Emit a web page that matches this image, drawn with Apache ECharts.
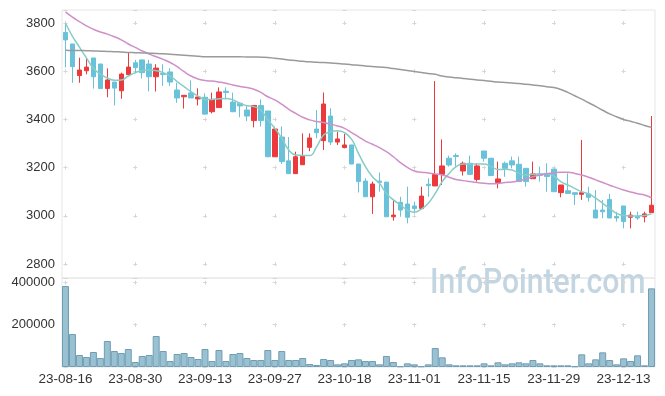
<!DOCTYPE html>
<html><head><meta charset="utf-8">
<script src="https://cdn.jsdelivr.net/npm/echarts@6/dist/echarts.min.js"></script>
<style>html,body{margin:0;padding:0;background:#fff}#c{width:665px;height:396px}</style>
</head><body><div id="c"></div>
<script>
const dates = [
'23-08-16','23-08-17','23-08-18','23-08-21','23-08-22','23-08-23','23-08-24','23-08-25','23-08-28','23-08-29',
'23-08-30','23-08-31','23-09-01','23-09-04','23-09-05','23-09-06','23-09-07','23-09-08','23-09-11','23-09-12',
'23-09-13','23-09-14','23-09-15','23-09-18','23-09-19','23-09-20','23-09-21','23-09-22','23-09-25','23-09-26',
'23-09-27','23-10-04','23-10-05','23-10-06','23-10-10','23-10-11','23-10-12','23-10-13','23-10-16','23-10-17',
'23-10-18','23-10-19','23-10-20','23-10-23','23-10-24','23-10-25','23-10-26','23-10-27','23-10-30','23-10-31',
'23-11-01','23-11-02','23-11-03','23-11-06','23-11-07','23-11-08','23-11-09','23-11-10','23-11-13','23-11-14',
'23-11-15','23-11-16','23-11-17','23-11-20','23-11-21','23-11-22','23-11-23','23-11-24','23-11-27','23-11-28',
'23-11-29','23-11-30','23-12-01','23-12-04','23-12-05','23-12-06','23-12-07','23-12-08','23-12-11','23-12-12',
'23-12-13','23-12-14','23-12-15','23-12-18','23-12-19'];
const openP = [3761,3713,3582,3602,3655,3630,3528,3555,3519,3586,3635,3647,3630,3577,3591,3597,3522,3494,3510,3485,
3492,3432,3449,3517,3472,3467,3439,3395,3458,3435,3245,3327,3228,3175,3212,3284,3360,3312,3414,3306,
3283,3294,3215,3144,3079,3144,3140,2996,3056,3049,3041,3030,3131,3124,3172,3239,3250,3186,3218,3151,
3269,3239,3138,3218,3228,3214,3197,3154,3174,3176,3194,3096,3104,3096,3089,3091,3024,3024,3068,2997,
3041,2994,2997,2996,3013];
const closeP = [3730,3619,3605,3617,3577,3528,3564,3530,3588,3617,3615,3594,3577,3613,3586,3555,3489,3500,3489,3493,
3422,3483,3514,3512,3432,3456,3414,3458,3395,3245,3360,3225,3175,3245,3250,3323,3345,3464,3306,3319,
3294,3215,3142,3079,3132,3139,2996,3003,3024,2994,3030,3082,3125,3172,3207,3211,3246,3218,3172,3207,
3239,3167,3153,3197,3211,3142,3142,3174,3168,3163,3100,3128,3093,3089,3096,3077,2991,3017,2991,2991,
2976,3003,2991,3008,3044];
const lowP = [3616,3552,3552,3587,3528,3526,3492,3458,3486,3586,3591,3570,3516,3516,3539,3539,3469,3445,3489,3458,
3420,3425,3449,3483,3430,3409,3393,3367,3370,3245,3245,3215,3175,3175,3212,3268,3322,3273,3294,3294,
3280,3215,3097,3079,3008,3100,2996,2980,2996,2969,3010,3028,3079,3124,3128,3204,3204,3167,3172,3142,
3225,3167,3114,3162,3197,3142,3121,3154,3142,3100,3100,3077,3093,3045,3066,3059,2991,2990,2991,2976,
2948,2948,2983,2973,3013];
const highP = [3792,3713,3656,3654,3655,3630,3612,3555,3594,3678,3647,3647,3647,3629,3629,3612,3552,3500,3562,3529,
3508,3511,3533,3533,3511,3467,3458,3458,3483,3435,3370,3371,3327,3266,3342,3342,3439,3512,3446,3349,
3340,3294,3215,3156,3142,3180,3140,3068,3079,3121,3059,3121,3156,3559,3317,3250,3259,3225,3250,3218,
3269,3239,3225,3225,3246,3246,3197,3225,3204,3218,3194,3128,3176,3096,3315,3121,3107,3066,3091,3017,
3041,3017,3017,3017,3414];
const volumes = [383000,156000,56700,47300,70900,42600,123000,75600,66200,85100,
23600,52000,56700,146600,75600,28400,61500,66200,47300,37800,
85100,28400,80400,28400,61500,66200,42600,33100,33100,80400,
33100,75600,33100,33100,42600,14200,9500,37800,33100,12600,
17300,33100,36200,28400,28400,12600,52000,23600,3200,17300,
12600,3200,12600,89800,45700,12600,7900,7900,7900,7900,
17300,7900,22100,12600,17300,22100,17300,33100,17300,7900,
7900,7900,7900,3200,59900,17300,36200,69300,33100,12600,
41000,28400,55200,7900,372000];
const ma5 = [3799,3745,3700,3655,3612,3588,3572,3563,3564,3580,3594,3602,3605,3602,3594,3580,3557,3536,3515,3497,3483,
3483,3486,3487,3481,3467,3457,3453,3439,3398,3363,3322,3273,3252,3250,3250,3287,3335,3349,3353,3345,3318,
3259,3204,3162,3135,3093,3066,3045,3024,3015,3028,3052,3093,3142,3176,3204,3215,3215,3215,3215,3204,3192,
3193,3190,3176,3169,3172,3174,3174,3165,3142,3128,3114,3100,3091,3073,3052,3031,3010,3001,2999,2999,3001,3008];
const ma20 = [3846,3824,3806,3788,3774,3763,3754,3743,3730,3713,3699,3684,3671,3660,3649,3636,3619,3598,3580,3568,3561,
3559,3555,3550,3543,3537,3532,3525,3512,3494,3481,3463,3442,3425,3409,3398,3391,3387,3380,3373,3363,3345,
3328,3310,3297,3283,3266,3245,3221,3201,3186,3181,3178,3174,3169,3160,3151,3146,3142,3138,3135,3133,3134,
3138,3140,3146,3153,3162,3169,3175,3179,3181,3181,3176,3169,3160,3149,3138,3127,3117,3107,3099,3092,3086,3075];
const ma60 = [3687,3686,3686,3685,3684,3683,3682,3681,3680,3678,3677,3676,3675,3674,3672,3670,3668,3666,3664,3662,3660,
3660,3660,3660,3660,3660,3659,3659,3658,3657,3654,3651,3647,3644,3641,3639,3637,3636,3634,3632,3630,3627,
3625,3622,3620,3617,3615,3611,3607,3603,3599,3595,3591,3587,3580,3576,3573,3570,3567,3564,3561,3558,3555,
3553,3551,3549,3546,3543,3540,3536,3532,3524,3512,3498,3484,3469,3454,3438,3423,3411,3400,3392,3384,3375,3367];
const priceRange = [2742, 3854];
const volumeRange = [0, 421000];
const volumeStep = 200000;
const watermark = 'InfoPointer.com';

const UP = '#ec3a3c', DOWN = '#69c2d9';
const font = 'Liberation Sans';
const candles = dates.map((d, i) => [openP[i], closeP[i], lowP[i], highP[i]]);
const plusH = {show: true, lineStyle: {color: '#d6d6d6', width: 1, type: [4, 65.76], dashOffset: 68.26}};
const plain = v => String(v);

const chart = echarts.init(document.getElementById('c'), null, {renderer: 'canvas'});
chart.setOption({
  animation: false,
  backgroundColor: '#fff',
  grid: [
    {left: 62, right: 10, top: 10, height: 268, show: true, borderColor: '#e6e6e6', borderWidth: 1, backgroundColor: 'transparent'},
    {left: 62, right: 10, top: 278, height: 89, show: true, borderColor: '#e6e6e6', borderWidth: 1, backgroundColor: 'transparent'}
  ],
  graphic: [{
    type: 'text', x: 430, y: 267, scaleX: 0.86, z: 0, silent: true,
    style: {text: watermark, font: '500 35px Roboto', fill: '#c3d5e0', textBaseline: 'alphabetic', textAlign: 'left'}
  }],
  xAxis: [
    {type: 'category', gridIndex: 0, data: dates, boundaryGap: true,
     axisLine: {show: false}, axisTick: {show: false}, axisLabel: {show: false},
     splitLine: {show: true, alignWithLabel: true, interval: 9, lineStyle: {color: '#d6d6d6', width: 1, type: [4, 44.2], dashOffset: 37.2}}},
    {type: 'category', gridIndex: 1, data: dates, boundaryGap: true,
     axisLine: {show: false}, axisTick: {show: false},
     axisLabel: {interval: 9, color: '#333', fontFamily: font, fontSize: 13.5, margin: 5},
     splitLine: {show: true, alignWithLabel: true, interval: 9, lineStyle: {color: '#d6d6d6', width: 1, type: [4, 38.3], dashOffset: 39.6}}}
  ],
  yAxis: [
    {type: 'value', gridIndex: 0, min: priceRange[0], max: priceRange[1], scale: true,
     axisLine: {show: false}, axisTick: {show: false},
     axisLabel: {color: '#333', fontFamily: font, fontSize: 13, margin: 7, showMinLabel: false, showMaxLabel: false, formatter: plain},
     splitLine: plusH},
    {type: 'value', gridIndex: 1, min: volumeRange[0], max: volumeRange[1], interval: volumeStep,
     axisLine: {show: false}, axisTick: {show: false},
     axisLabel: {color: '#333', fontFamily: font, fontSize: 13, margin: 7, showMinLabel: false, showMaxLabel: false, formatter: plain},
     splitLine: plusH}
  ],
  series: [
    {type: 'candlestick', xAxisIndex: 0, yAxisIndex: 0, data: candles, barWidth: 5,
     itemStyle: {color: UP, color0: DOWN, borderColor: UP, borderColor0: DOWN, borderWidth: 1}},
    {type: 'line', xAxisIndex: 0, yAxisIndex: 0, data: ma5, smooth: true, symbol: 'none', z: 3,
     lineStyle: {color: '#86cdc5', width: 1.5}},
    {type: 'line', xAxisIndex: 0, yAxisIndex: 0, data: ma20, smooth: true, symbol: 'none', z: 3,
     lineStyle: {color: '#cf8fc9', width: 1.5}},
    {type: 'line', xAxisIndex: 0, yAxisIndex: 0, data: ma60, smooth: true, symbol: 'none', z: 3,
     lineStyle: {color: '#9a9a9a', width: 1.5}},
    {type: 'bar', xAxisIndex: 1, yAxisIndex: 1, data: volumes, barCategoryGap: '0%', barWidth: '100%',
     itemStyle: {color: '#9ac1d2', borderColor: '#6f9db3', borderWidth: 1}}
  ]
});
</script></body></html>
